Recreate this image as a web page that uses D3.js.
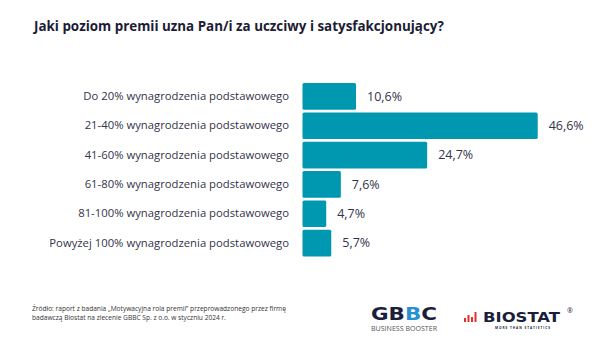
<!DOCTYPE html>
<html><head><meta charset="utf-8">
<script src="https://cdn.jsdelivr.net/npm/d3@7"></script>
<style>
html,body{margin:0;padding:0;background:#fff;}
svg{display:block;}
</style></head>
<body>
<script>
const categories = [
  "Do 20% wynagrodzenia podstawowego",
  "21-40% wynagrodzenia podstawowego",
  "41-60% wynagrodzenia podstawowego",
  "61-80% wynagrodzenia podstawowego",
  "81-100% wynagrodzenia podstawowego",
  "Powyżej 100% wynagrodzenia podstawowego"
];
const values = [10.6, 46.6, 24.7, 7.6, 4.7, 5.7];
const title = "Jaki poziom premii uzna Pan/i za uczciwy i satysfakcjonujący?";
const sourceLines = [
  "Źródło: raport z badania \u201eMotywacyjna rola premii\u201d przeprowadzonego przez firmę",
  "badawczą Biostat na zlecenie GBBC Sp. z o.o. w styczniu 2024 r."
];

const W = 605, H = 340;
const svg = d3.select("body").append("svg").attr("width", W).attr("height", H);
const font = "'Open Sans', 'Noto Sans', sans-serif";
const barColor = "#0098b1";
const textColor = "#34334a";

svg.append("text").attr("x", 34).attr("y", 31)
  .attr("font-family", font).attr("font-weight", 700).attr("font-size", 13.4)
  .attr("fill", "#1d1b36").text(title);

const x = d3.scaleLinear().domain([0, 46.6]).range([302.5, 537.7]);
const y = d3.scaleBand().domain(categories).range([82.5, 257]).paddingInner(0.09).paddingOuter(0.02);

const fmt = v => d3.format(".1f")(v).replace(".", ",") + "%";

const g = svg.append("g");
g.selectAll("rect").data(values).join("rect")
  .attr("x", x(0)).attr("y", (d, i) => y(categories[i]))
  .attr("width", d => x(d) - x(0)).attr("height", y.bandwidth())
  .attr("rx", 1.5).attr("fill", barColor);

g.selectAll("text.val").data(values).join("text").attr("class", "val")
  .attr("x", d => x(d) + 11).attr("y", (d, i) => y(categories[i]) + y.bandwidth() / 2)
  .attr("dy", "0.35em").attr("font-family", font).attr("font-size", 12.5)
  .attr("fill", textColor).text(fmt);

const yAxis = d3.axisLeft(y).tickSize(0).tickPadding(0);
const ax = svg.append("g").attr("transform", "translate(289,0)").call(yAxis);
ax.select(".domain").remove();
ax.selectAll("text").attr("font-family", font).attr("font-size", 11.3).attr("fill", textColor);

// source
svg.append("g").selectAll("text").data(sourceLines).join("text")
  .attr("x", 32).attr("y", (d, i) => 311 + i * 9)
  .attr("font-family", font).attr("font-size", 6.6).attr("fill", "#333")
  .text(d => d);

// GBBC logo
const gb = svg.append("text").attr("x", 371).attr("y", 319.5)
  .attr("font-family", "'DejaVu Sans', sans-serif").attr("font-weight", 700)
  .attr("font-size", 17).attr("fill", "#1b1f3b").attr("textLength", 66).attr("lengthAdjust", "spacingAndGlyphs");
gb.append("tspan").text("GB");
gb.append("tspan").attr("fill", "#2a8fd0").text("B");
gb.append("tspan").text("C");
svg.append("text").attr("x", 371).attr("y", 331)
  .attr("font-family", font).attr("font-size", 6.2).attr("fill", "#555")
  .attr("textLength", 66).attr("lengthAdjust", "spacingAndGlyphs").text("BUSINESS BOOSTER");

// BIOSTAT logo
const icon = [4, 7, 5, 10];
svg.append("g").selectAll("rect").data(icon).join("rect")
  .attr("x", (d, i) => 464 + i * 3.5).attr("y", d => 322 - d)
  .attr("width", 2).attr("height", d => d).attr("fill", "#e0312f");
svg.append("text").attr("x", 483).attr("y", 322)
  .attr("font-family", "'DejaVu Sans', sans-serif").attr("font-weight", 700)
  .attr("font-size", 13.5).attr("fill", "#1b1f3b")
  .attr("textLength", 77).attr("lengthAdjust", "spacingAndGlyphs").text("BIOSTAT");
svg.append("text").attr("x", 567).attr("y", 313)
  .attr("font-family", font).attr("font-size", 7).attr("fill", "#1b1f3b").text("®");
svg.append("text").attr("x", 495).attr("y", 328.5)
  .attr("font-family", font).attr("font-weight", 700).attr("font-size", 3.2).attr("fill", "#1b1f3b")
  .attr("textLength", 55).text("MORE THAN STATISTICS");
</script>
</body></html>
